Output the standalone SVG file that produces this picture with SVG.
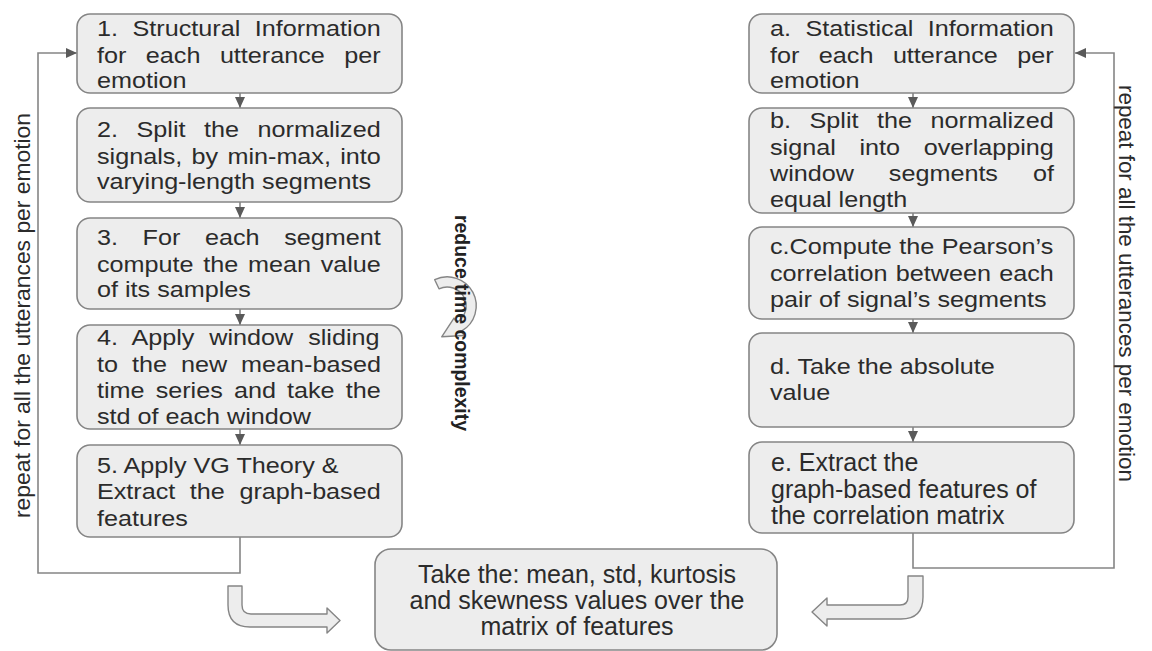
<svg xmlns="http://www.w3.org/2000/svg" width="1152" height="651" viewBox="0 0 1152 651">
<defs>
<style>
.box{fill:#ededed;stroke:#858585;stroke-width:1.6}
.t{font-family:"Liberation Sans",Arial,sans-serif;font-size:22px;fill:#2b2b2b}
.n{font-family:"Liberation Sans",Arial,sans-serif;font-size:25px;fill:#2b2b2b}
.rot{font-family:"Liberation Sans",Arial,sans-serif;font-size:22.5px;fill:#2b2b2b}
.ln{fill:none;stroke:#858585;stroke-width:1.6}
.blk{fill:#ededed;stroke:#858585;stroke-width:1.4;stroke-linejoin:round}
</style>
<marker id="ah" markerUnits="userSpaceOnUse" markerWidth="11" markerHeight="11" refX="11" refY="5.5" orient="auto" viewBox="0 0 11 11">
<path d="M0,0.5 L11,5.5 L0,10.5 z" fill="#5a5a5a"/>
</marker>
</defs>
<rect width="1152" height="651" fill="#ffffff"/>

<g id="connectors">
<line class="ln" x1="240" y1="93" x2="240" y2="108" marker-end="url(#ah)"/>
<line class="ln" x1="240" y1="202" x2="240" y2="218" marker-end="url(#ah)"/>
<line class="ln" x1="240" y1="309" x2="240" y2="325" marker-end="url(#ah)"/>
<line class="ln" x1="240" y1="429" x2="240" y2="445" marker-end="url(#ah)"/>
<line class="ln" x1="913" y1="93" x2="913" y2="108" marker-end="url(#ah)"/>
<line class="ln" x1="913" y1="213" x2="913" y2="227" marker-end="url(#ah)"/>
<line class="ln" x1="913" y1="319" x2="913" y2="333" marker-end="url(#ah)"/>
<line class="ln" x1="913" y1="427" x2="913" y2="442" marker-end="url(#ah)"/>
<polyline class="ln" points="240,537 240,573 38,573 38,53 77,53" marker-end="url(#ah)"/>
<polyline class="ln" points="913,533 913,568 1114,568 1114,53 1075,53" marker-end="url(#ah)"/>
<path class="blk" d="M228,586 H242 V605 Q242,614 251,614 H327 V608 L340,620.5 L327,633 V627 H250 Q228,627 228,605 Z"/>
<path class="blk" d="M908,576 H923 V597 Q923,619 901,619 H827 V626 L812,612 L827,598 V605 H900 Q908,605 908,597 Z"/>
</g>

<g id="reduce">
<path class="blk" d="M434.7,279.7 A29,29 0 0,1 461.5,331.1 L464,335.5 L441.7,336.8 L454,318.1 L456.5,322.5 A19,19 0 0,0 439,288.8 Z"/>
<text font-family="Liberation Sans, Arial, sans-serif" font-size="20" font-weight="bold" fill="#222" transform="translate(455,215) rotate(90)" textLength="216" lengthAdjust="spacingAndGlyphs">reduce time complexity</text>
</g>

<g id="loop-left-label">
<text class="rot" transform="translate(30,518) rotate(-90)" textLength="405" lengthAdjust="spacingAndGlyphs">repeat for all the utterances per emotion</text>
</g>
<g id="loop-right-label">
<text class="rot" transform="translate(1119,85) rotate(90)" textLength="397" lengthAdjust="spacingAndGlyphs">repeat for all the utterances per emotion</text>
</g>

<g id="n1">
<rect class="box" x="77" y="14" width="325" height="79" rx="13"/>
<text class="t" transform="translate(97,36) scale(1.145,1)" word-spacing="6.6">1. Structural Information</text>
<text class="t" transform="translate(97,63) scale(1.145,1)" word-spacing="10.9">for each utterance per</text>
<text class="t" transform="translate(97,88) scale(1.145,1)">emotion</text>
</g>
<g id="n2">
<rect class="box" x="77" y="108" width="325" height="94" rx="13"/>
<text class="t" transform="translate(97,137) scale(1.145,1)" word-spacing="10.1">2. Split the normalized</text>
<text class="t" transform="translate(97,164) scale(1.145,1)" word-spacing="2.0">signals, by min-max, into</text>
<text class="t" transform="translate(97,189) scale(1.145,1)">varying-length segments</text>
</g>
<g id="n3">
<rect class="box" x="77" y="218" width="325" height="91" rx="13"/>
<text class="t" transform="translate(97,245) scale(1.145,1)" word-spacing="15.4">3. For each segment</text>
<text class="t" transform="translate(97,272) scale(1.145,1)" word-spacing="2.4">compute the mean value</text>
<text class="t" transform="translate(97,297) scale(1.145,1)">of its samples</text>
</g>
<g id="n4">
<rect class="box" x="77" y="325" width="325" height="104" rx="13"/>
<text class="t" transform="translate(97,345) scale(1.145,1)" word-spacing="6.9">4. Apply window sliding</text>
<text class="t" transform="translate(97,372) scale(1.145,1)" word-spacing="6.1">to the new mean-based</text>
<text class="t" transform="translate(97,398) scale(1.145,1)" word-spacing="3.6">time series and take the</text>
<text class="t" transform="translate(97,424) scale(1.145,1)">std of each window</text>
</g>
<g id="n5">
<rect class="box" x="77" y="445" width="325" height="92" rx="13"/>
<text class="t" transform="translate(97,473) scale(1.145,1)">5. Apply VG Theory &amp;</text>
<text class="t" transform="translate(97,499) scale(1.145,1)" word-spacing="6.6">Extract the graph-based</text>
<text class="t" transform="translate(97,526) scale(1.145,1)">features</text>
</g>

<g id="na">
<rect class="box" x="749" y="14" width="325" height="79" rx="13"/>
<text class="t" transform="translate(770,36) scale(1.145,1)" word-spacing="6.6">a. Statistical Information</text>
<text class="t" transform="translate(770,63) scale(1.145,1)" word-spacing="10.9">for each utterance per</text>
<text class="t" transform="translate(770,88) scale(1.145,1)">emotion</text>
</g>
<g id="nb">
<rect class="box" x="749" y="108" width="325" height="105" rx="13"/>
<text class="t" transform="translate(770,128) scale(1.145,1)" word-spacing="10.1">b. Split the normalized</text>
<text class="t" transform="translate(770,155) scale(1.145,1)" word-spacing="14.6">signal into overlapping</text>
<text class="t" transform="translate(770,181) scale(1.145,1)" word-spacing="24.4">window segments of</text>
<text class="t" transform="translate(770,207) scale(1.145,1)">equal length</text>
</g>
<g id="nc">
<rect class="box" x="749" y="227" width="325" height="92" rx="13"/>
<text class="t" transform="translate(770,254) scale(1.145,1)" word-spacing="0.5">c.Compute the Pearson’s</text>
<text class="t" transform="translate(770,281) scale(1.145,1)" word-spacing="1.1">correlation between each</text>
<text class="t" transform="translate(770,307) scale(1.145,1)">pair of signal’s segments</text>
</g>
<g id="nd">
<rect class="box" x="749" y="333" width="325" height="94" rx="13"/>
<text class="t" transform="translate(770,374) scale(1.145,1)">d. Take the absolute</text>
<text class="t" transform="translate(770,400) scale(1.145,1)">value</text>
</g>
<g id="ne">
<rect class="box" x="749" y="442" width="325" height="91" rx="13"/>
<text class="n" x="771" y="471">e. Extract the</text>
<text class="n" x="771" y="498">graph-based features of</text>
<text class="n" x="771" y="524">the correlation matrix</text>
</g>

<g id="nfinal">
<rect class="box" x="375" y="549" width="402" height="101" rx="16"/>
<text class="n" x="577" y="583" text-anchor="middle">Take the: mean, std, kurtosis</text>
<text class="n" x="577" y="609" text-anchor="middle">and skewness values over the</text>
<text class="n" x="577" y="635" text-anchor="middle">matrix of features</text>
</g>
</svg>
